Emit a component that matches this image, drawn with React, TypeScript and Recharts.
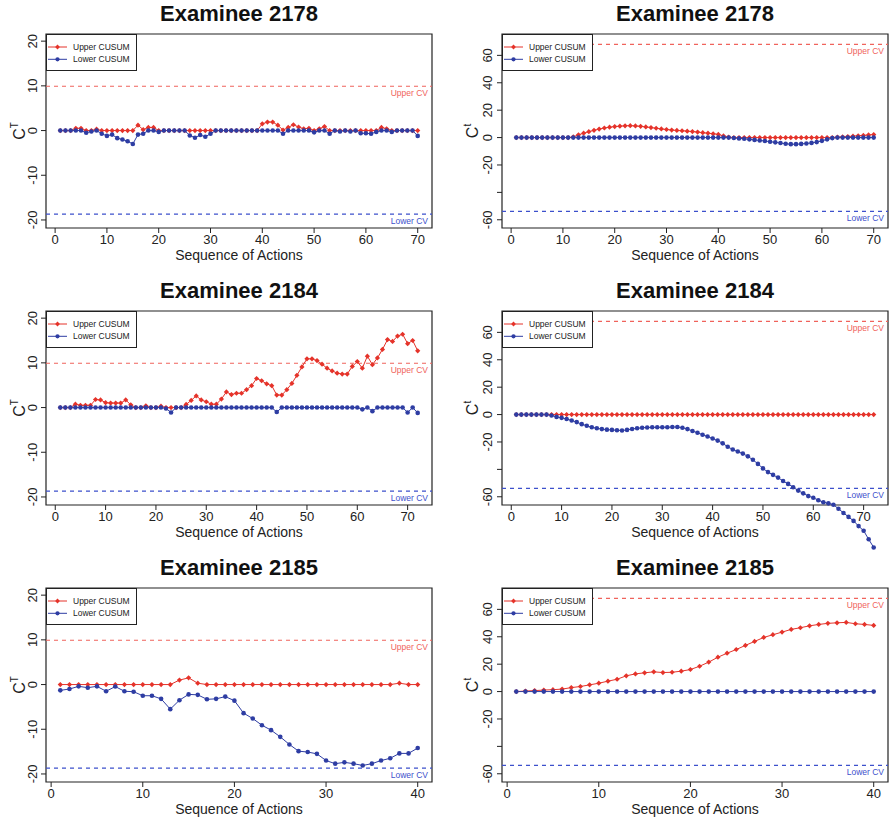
import React from 'react';
import { LineChart, Line, XAxis, YAxis, ReferenceLine, ReferenceArea, Legend } from 'recharts';

// colours
const RED = '#E5332A';
const BLUE = '#2E3DA3';
const CV_RED = '#F0635C';
const CV_BLUE = '#3D50CC';
const INK = '#222';

// axis ticks
const X_TICKS_LONG = [0, 10, 20, 30, 40, 50, 60, 70];
const X_TICKS_SHORT = [0, 10, 20, 30, 40];
const Y_TICKS_T = [-20, -10, 0, 10, 20];
const Y_TICKS_t = [-60, -40, -20, 0, 20, 40, 60];
const Y_DOMAIN_T = [-21.8, 21.6];
const Y_DOMAIN_t = [-66, 75.6];
const CV_T = [9.9, -18.7];
const CV_t = [68, -53.8];

// Examinee 2178
const upper2178T = [
  0, 0, 0, 0.5, 0.5, 0, 0, 0.3, 0, 0,
  0, 0, 0, 0, 0, 1.2, 0.2, 0.7, 0.7, 0,
  0, 0, 0, 0, 0, 0, 0, 0, 0, 0,
  0, 0, 0, 0, 0, 0, 0, 0, 0, 1.5,
  1.9, 1.9, 1.2, 0.1, 0.7, 1.3, 0.8, 0.4, 0.5, 0,
  0.4, 0.9, 0, 0, 0, 0, 0, 0, 0, 0,
  0, 0, 0.7, 0.4, 0, 0, 0, 0, 0, 0,
];
const lower2178T = [
  0, 0, 0, 0, 0, -0.5, -0.2, 0, -0.7, -1.2,
  -0.9, -1.7, -2.0, -2.4, -3.0, -0.9, -0.7, 0, 0, -0.3,
  0, 0, 0, 0, 0, -1.1, -1.6, -1.0, -1.4, -0.7,
  0, 0, 0, 0, 0, 0, 0, 0, 0, 0,
  0, 0, 0, -0.7, 0, 0, 0, 0, 0, -0.4,
  0, 0, -0.7, 0, -0.2, 0, -0.2, 0, -0.6, -0.6,
  -0.7, -0.3, 0, 0, -0.3, 0, 0, 0, 0, -1.2,
];
const upper2178t = [
  0, 0, 0, 0, 0, 0, 0, 0, 0, 0,
  0, 0.5, 2.0, 3.2, 4.3, 5.3, 6.2, 7.0, 7.6, 8.0,
  8.3, 8.6, 8.7, 8.5, 8.2, 7.8, 7.3, 6.8, 6.3, 5.9,
  5.5, 5.2, 5.0, 4.7, 4.4, 4.0, 3.6, 3.2, 2.8, 2.3,
  1.2, 0.3, 0, 0, 0, 0, 0, 0, 0, 0,
  0, 0, 0, 0, 0, 0, 0, 0, 0, 0,
  0, 0, 0.3, 0.5, 0.7, 1.0, 1.3, 1.6, 1.9, 2.2,
];
const lower2178t = [
  0, 0, 0, 0, 0, 0, 0, 0, 0, 0,
  0, 0, 0, 0, 0, 0, 0, 0, 0, 0,
  0, 0, 0, 0, 0, 0, 0, 0, 0, 0,
  0, 0, 0, 0, 0, 0, 0, 0, 0, 0,
  0, 0, -0.3, -0.6, -0.9, -1.3, -1.7, -2.1, -2.5, -3.0,
  -3.5, -4.0, -4.5, -4.8, -4.8, -4.6, -4.3, -3.9, -3.3, -2.4,
  -1.3, -0.4, 0, 0, 0, 0, 0, 0, 0, 0,
];

// Examinee 2184
const upper2184T = [
  0, 0, 0, 0.75, 0.5, 0.5, 0.5, 1.8, 1.7, 1.1,
  1.0, 1.0, 1.0, 1.7, 0.6, 0, 0, 0.4, 0, 0,
  0.3, 0, 0, 0, 0, 0.7, 1.6, 2.6, 1.7, 1.3,
  0.75, 0.75, 1.9, 3.5, 2.9, 3.2, 3.2, 4.0, 4.9, 6.5,
  6.0, 5.3, 4.9, 2.8, 2.8, 4.0, 5.4, 7.2, 9.1, 10.9,
  10.9, 10.5, 9.7, 8.8, 8.2, 7.7, 7.5, 7.5, 9.2, 10.3,
  8.8, 11.5, 9.6, 11.1, 13.0, 15.2, 14.8, 16.0, 16.4, 14.3,
  15.0, 12.7,
];
const lower2184T = [
  0, 0, 0, 0, 0, 0, 0, 0, 0, 0,
  0, 0, 0, 0, 0, 0, 0, 0, 0, 0,
  0, -0.2, -1.1, 0, 0, 0, 0, 0, 0, 0,
  0, 0, 0, 0, 0, 0, 0, 0, 0, 0,
  0, 0, 0, -1.0, 0, 0, 0, 0, 0, 0,
  0, 0, 0, 0, 0, 0, 0, 0, 0, 0,
  -0.4, 0, -0.8, 0, 0, 0, 0, 0, 0, -1.1,
  0, -1.2,
];
const upper2184t = [
  0, 0, 0, 0, 0, 0, 0, 0, 0, 0,
  0, 0, 0, 0, 0, 0, 0, 0, 0, 0,
  0, 0, 0, 0, 0, 0, 0, 0, 0, 0,
  0, 0, 0, 0, 0, 0, 0, 0, 0, 0,
  0, 0, 0, 0, 0, 0, 0, 0, 0, 0,
  0, 0, 0, 0, 0, 0, 0, 0, 0, 0,
  0, 0, 0, 0, 0, 0, 0, 0, 0, 0,
  0, 0,
];
const lower2184t = [
  0, 0, 0, 0, 0, 0, 0, -0.7, -1.7, -2.4,
  -3.2, -4.3, -5.5, -7.0, -8.2, -9.2, -10.0, -10.6, -11.0, -11.2,
  -11.4, -11.6, -11.2, -10.5, -10.0, -9.6, -9.4, -9.3, -9.3, -9.2,
  -9.2, -9.1, -9.1, -9.6, -10.6, -12.0, -13.3, -14.7, -16.0, -17.5,
  -19.0, -21.0, -23.5, -25.5, -27.0, -28.5, -30.5, -33.0, -36.0, -39.3,
  -42.0, -44.0, -46.0, -48.5, -50.6, -53.0, -55.5, -57.5, -59.5, -60.7,
  -62.5, -64.0, -64.8, -65.8, -68.7, -71.8, -74.7, -77.6, -81.4, -84.8,
  -91.0, -97.0,
];

// Examinee 2185
const upper2185T = [
  0, 0, 0, 0, 0, 0, 0, 0, 0, 0,
  0, 0, 0, 1.0, 1.5, 0.3, 0, 0, 0, 0,
  0, 0, 0, 0, 0, 0, 0, 0, 0, 0,
  0, 0, 0, 0, 0, 0, 0, 0.3, 0, 0,
];
const lower2185T = [
  -1.3, -1.0, -0.4, -0.7, -0.4, -1.5, -0.45, -1.5, -1.6, -2.5,
  -2.5, -3.2, -5.5, -3.5, -2.2, -2.3, -3.3, -3.2, -2.7, -3.6,
  -6.4, -7.6, -9.1, -10.2, -11.7, -13.4, -14.9, -15.1, -15.5, -17.0,
  -17.7, -17.4, -17.7, -18.1, -17.7, -17.0, -16.5, -15.4, -15.4, -14.2,
];
const upper2185t = [
  0, 0.4, 0.7, 1.1, 1.4, 1.8, 2.9, 3.7, 4.9, 6.1,
  7.6, 9.0, 11.5, 12.9, 13.7, 14.4, 13.9, 14.1, 14.9, 16.1,
  18.5, 21.5, 25.1, 28.0, 30.7, 33.7, 36.6, 39.5, 41.5, 43.4,
  45.4, 46.6, 48.0, 49.0, 49.8, 50.2, 50.5, 49.5, 49.0, 48.3,
];
const lower2185t = [
  0, 0, 0, 0, 0, 0, 0, 0, 0, 0,
  0, 0, 0, 0, 0, 0, 0, 0, 0, 0,
  0, 0, 0, 0, 0, 0, 0, 0, 0, 0,
  0, 0, 0, 0, 0, 0, 0, 0, 0, 0,
];

// layout
const CHART_W = 444;
const CHART_H = 277;
const COL_X = [0, 445];
const ROW_Y = [0, 277, 554];
const PLOT_LEFT = [46, 57];
const MARGIN_RIGHT = [12, 1];
const PLOT_TOP = 34;
const PLOT_H = 194;

const FONT = '"Liberation Sans", Arial, Helvetica, sans-serif';

const redDot = (p: any) => {
  const { cx, cy, index } = p;
  if (cx == null || cy == null) return <g key={`r${index}`} />;
  const s = 2.6;
  return (
    <polygon key={`r${index}`} points={`${cx},${cy - s} ${cx + s},${cy} ${cx},${cy + s} ${cx - s},${cy}`} fill={RED} />
  );
};

const blueDot = (p: any) => {
  const { cx, cy, index } = p;
  if (cx == null || cy == null) return <g key={`b${index}`} />;
  return <circle key={`b${index}`} cx={cx} cy={cy} r={2.3} fill={BLUE} />;
};

const LegendBox = () => (
  <svg width={91} height={37} style={{ display: 'block' }}>
    <rect x={0.5} y={0.5} width={90} height={36} fill="#fff" stroke={INK} strokeWidth={1} />
    <line x1={2} x2={21} y1={13} y2={13} stroke={RED} strokeWidth={1} />
    <polygon points="11.5,10.6 13.9,13 11.5,15.4 9.1,13" fill={RED} />
    <text x={27} y={16} fontSize={8.5} fill={INK} fontFamily={FONT}>Upper CUSUM</text>
    <line x1={2} x2={21} y1={25.3} y2={25.3} stroke={BLUE} strokeWidth={1} />
    <circle cx={11.5} cy={25.3} r={2.1} fill={BLUE} />
    <text x={27} y={28.3} fontSize={8.5} fill={INK} fontFamily={FONT}>Lower CUSUM</text>
  </svg>
);

function Panel({ title, sup, upper, lower, col, row }: any) {
  const n = upper.length;
  const data = upper.map((u: number, i: number) => ({ x: i + 1, upper: u, lower: lower[i] }));
  const pad = 0.04 * (n - 1);
  const xDomain = [1 - pad, n + pad];
  const xTicks = n > 50 ? X_TICKS_LONG : X_TICKS_SHORT;
  const isT = sup === 'T';
  const yDomain = isT ? Y_DOMAIN_T : Y_DOMAIN_t;
  const yTicks = isT ? Y_TICKS_T : Y_TICKS_t;
  const cv = isT ? CV_T : CV_t;
  const plotLeft = PLOT_LEFT[col];
  const plotW = CHART_W - plotLeft - MARGIN_RIGHT[col];
  const labelOff = col === 0 ? 21 : 24;

  const yTick = (p: any) => {
    const { x, y, payload } = p;
    const v = payload.value;
    const txt = !isT && v === -40 ? '' : String(v);
    return (
      <text x={x} y={y} transform={`rotate(-90 ${x} ${y})`} textAnchor="middle" fontSize={13} fill={INK}>
        {txt}
      </text>
    );
  };

  const yLabel = () => {
    const bx = plotLeft - labelOff;
    const cy = PLOT_TOP + PLOT_H / 2;
    return (
      <text x={bx} y={cy} transform={`rotate(-90 ${bx} ${cy})`} textAnchor="middle" fontSize={16} fill={INK}>
        C<tspan fontSize={10} dy={-7}>{sup}</tspan>
      </text>
    );
  };

  return (
    <div
      className="noclip"
      style={{ position: 'absolute', left: COL_X[col], top: ROW_Y[row], width: CHART_W, height: CHART_H }}
    >
      <div
        style={{
          position: 'absolute', left: plotLeft, top: 3.4, width: plotW, textAlign: 'center',
          fontWeight: 'bold', fontSize: 22, lineHeight: '22px', color: '#111', zIndex: 2,
        }}
      >
        {title}
      </div>
      <LineChart
        width={CHART_W}
        height={CHART_H}
        data={data}
        margin={{ top: PLOT_TOP, right: MARGIN_RIGHT[col], bottom: 11, left: 0 }}
      >
        <XAxis
          dataKey="x"
          type="number"
          domain={xDomain}
          ticks={xTicks}
          allowDataOverflow
          axisLine={false}
          tickLine={{ stroke: INK }}
          tickSize={5}
          tickMargin={2}
          height={38}
          interval={0}
          tick={{ fontSize: 13, fill: INK }}
          label={{ value: 'Sequence of Actions', position: 'insideBottom', offset: 6, fontSize: 14, fill: INK }}
        />
        <YAxis
          type="number"
          domain={yDomain}
          ticks={yTicks}
          allowDataOverflow
          width={plotLeft}
          axisLine={false}
          tickLine={{ stroke: INK }}
          tickSize={5}
          tickMargin={col === 0 ? 4 : 5}
          interval={0}
          tick={yTick}
          label={yLabel}
        />
        <ReferenceArea
          x1={xDomain[0]}
          x2={xDomain[1]}
          y1={yDomain[0]}
          y2={yDomain[1]}
          fill="none"
          fillOpacity={0}
          stroke={INK}
          strokeWidth={1.2}
          ifOverflow="visible"
        />
        <ReferenceLine
          y={cv[0]}
          stroke={CV_RED}
          strokeDasharray="4 4"
          strokeWidth={1.1}
          label={{ value: 'Upper CV', position: 'insideTopRight', offset: 4, fontSize: 8.5, fill: CV_RED }}
        />
        <ReferenceLine
          y={cv[1]}
          stroke={CV_BLUE}
          strokeDasharray="4 4"
          strokeWidth={1.2}
          label={{ value: 'Lower CV', position: 'insideTopRight', offset: 4, fontSize: 8.5, fill: CV_BLUE }}
        />
        <Line
          dataKey="upper"
          name="Upper CUSUM"
          stroke={RED}
          strokeWidth={1}
          dot={redDot}
          isAnimationActive={false}
        />
        <Line
          dataKey="lower"
          name="Lower CUSUM"
          stroke={BLUE}
          strokeWidth={1}
          dot={blueDot}
          isAnimationActive={false}
        />
        <Legend
          layout="vertical"
          align="center"
          verticalAlign="middle"
          wrapperStyle={{ left: plotLeft, top: PLOT_TOP, width: 91, height: 37 }}
          content={LegendBox}
        />
      </LineChart>
    </div>
  );
}

const PANELS = [
  { title: 'Examinee 2178', sup: 'T', upper: upper2178T, lower: lower2178T, col: 0, row: 0 },
  { title: 'Examinee 2178', sup: 't', upper: upper2178t, lower: lower2178t, col: 1, row: 0 },
  { title: 'Examinee 2184', sup: 'T', upper: upper2184T, lower: lower2184T, col: 0, row: 1 },
  // the lower CUSUM here runs past the bottom of the frame, as in the original
  { title: 'Examinee 2184', sup: 't', upper: upper2184t, lower: lower2184t, col: 1, row: 1 },
  { title: 'Examinee 2185', sup: 'T', upper: upper2185T, lower: lower2185T, col: 0, row: 2 },
  { title: 'Examinee 2185', sup: 't', upper: upper2185t, lower: lower2185t, col: 1, row: 2 },
];

export default function App() {
  return (
    <div
      style={{
        position: 'absolute', left: 0, top: 0, width: 889, height: 820,
        overflow: 'hidden', background: '#fff', fontFamily: FONT,
      }}
    >
      <style>{'.noclip [clip-path] { clip-path: none !important; } .noclip svg { overflow: visible; }'}</style>
      {PANELS.map((p, i) => (
        <Panel key={i} {...p} />
      ))}
    </div>
  );
}
